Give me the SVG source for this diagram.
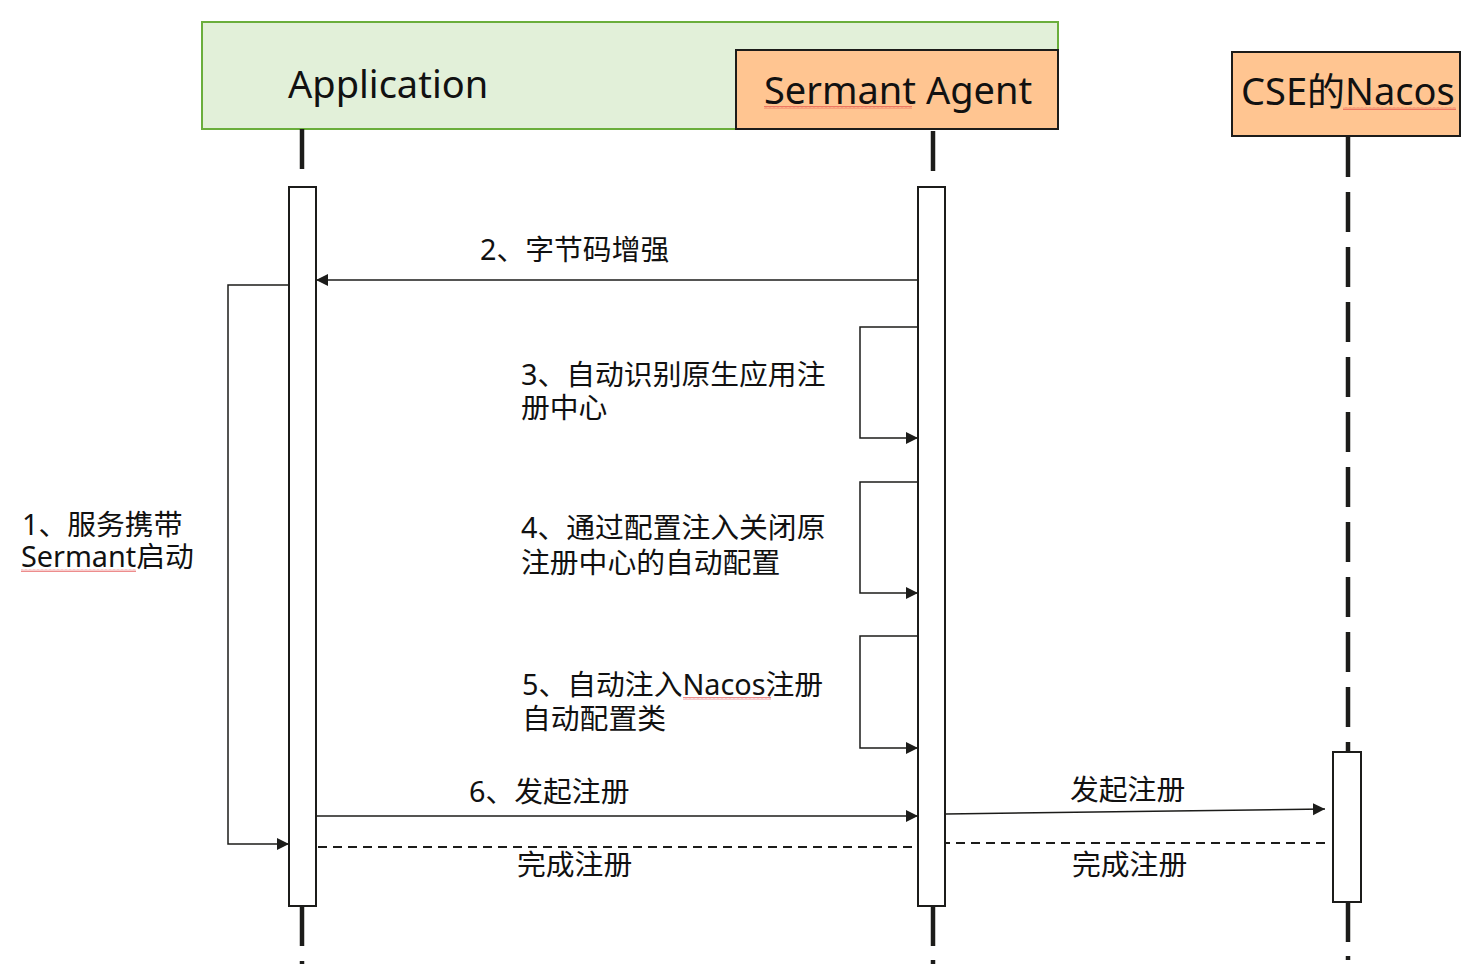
<svg xmlns="http://www.w3.org/2000/svg" width="1469" height="972" viewBox="0 0 1469 972">
<style>
  .t { font-family: "Noto Sans", "Noto Sans CJK SC", sans-serif; fill: #111; }
  .big { font-size: 38px; }
  .lbl { font-size: 28.8px; }
  .life { stroke: #1c1c1a; stroke-width: 4.5; fill: none; }
  .act { fill: #ffffff; stroke: #1c1c1a; stroke-width: 2; }
  .msg { stroke: #1c1c1a; stroke-width: 1.5; fill: none; }
  .ret { stroke: #1c1c1a; stroke-width: 2; fill: none; stroke-dasharray: 9 6; }
  .sq { fill: url(#squig); }
</style>
<defs>
  <marker id="arr" markerUnits="userSpaceOnUse" markerWidth="14" markerHeight="14" refX="12" refY="6" orient="auto">
    <path d="M0,0 L12,6 L0,12 z" fill="#1c1c1a"/>
  </marker>
  <pattern id="squig" patternUnits="userSpaceOnUse" width="4" height="3">
    <polyline points="0,2.5 1,0.5 2,2.5 3,0.5 4,2.5" fill="none" stroke="#e04040" stroke-width="0.6"/>
  </pattern>
</defs>

<g id="application">
  <rect x="202" y="22" width="856" height="107" fill="#e2f0d9" stroke="#6aae3c" stroke-width="2"/>
  <text class="t big" x="288" y="98">Application</text>
</g>

<g id="sermant-agent">
  <rect x="736" y="50" width="322" height="79" fill="#ffc591" stroke="#1c1c1a" stroke-width="2"/>
  <text class="t big" x="764" y="104">Sermant Agent</text>
  <rect class="sq" x="764" y="106" width="148" height="3"/>
</g>

<g id="cse-nacos">
  <rect x="1232" y="52" width="228" height="84" fill="#ffc591" stroke="#1c1c1a" stroke-width="2"/>
  <text class="t big" x="1241" y="105">CSE的Nacos</text>
  <rect class="sq" x="1343" y="107" width="113" height="3"/>
</g>

<g id="lifelines">
  <line class="life" x1="302" y1="129" x2="302" y2="169"/>
  <line class="life" x1="302" y1="906" x2="302" y2="946"/>
  <line class="life" x1="302" y1="961" x2="302" y2="964"/>
  <line class="life" x1="933" y1="131" x2="933" y2="171"/>
  <line class="life" x1="933" y1="906" x2="933" y2="946"/>
  <line class="life" x1="933" y1="960" x2="933" y2="964"/>
  <line class="life" x1="1348" y1="137" x2="1348" y2="752" stroke-dasharray="40 15"/>
  <line class="life" x1="1348" y1="902" x2="1348" y2="942"/>
  <line class="life" x1="1348" y1="956" x2="1348" y2="960"/>
</g>

<g id="app-activation">
  <rect class="act" x="289" y="187" width="27" height="719"/>
</g>
<g id="agent-activation">
  <rect class="act" x="918" y="187" width="27" height="719"/>
</g>
<g id="nacos-activation">
  <rect class="act" x="1333" y="752" width="28" height="150"/>
</g>

<g id="connectors">
  <path class="msg" d="M289,285 H228 V844 H289" marker-end="url(#arr)"/>
  <line class="msg" x1="918" y1="280" x2="316" y2="280" marker-end="url(#arr)"/>
  <path class="msg" d="M918,327 H860 V438 H918" marker-end="url(#arr)"/>
  <path class="msg" d="M918,482 H860 V593 H918" marker-end="url(#arr)"/>
  <path class="msg" d="M918,636 H860 V748 H918" marker-end="url(#arr)"/>
  <line class="msg" x1="316" y1="816" x2="918" y2="816" marker-end="url(#arr)"/>
  <line class="ret" x1="912" y1="847" x2="316" y2="847"/>
  <line class="msg" x1="946" y1="814" x2="1325" y2="809" stroke="#444" marker-end="url(#arr)"/>
  <line class="ret" x1="1325" y1="843" x2="946" y2="843" stroke-width="1.5"/>
</g>

<g id="labels">
  <text class="t lbl" x="22" y="535">1、服务携带<tspan x="21" dy="32">Sermant启动</tspan></text>
  <rect class="sq" x="21" y="569" width="115" height="3"/>
  <text class="t lbl" x="480" y="260">2、字节码增强</text>
  <text class="t lbl" x="521" y="385">3、自动识别原生应用注<tspan x="521" dy="33">册中心</tspan></text>
  <text class="t lbl" x="521" y="538">4、通过配置注入关闭原<tspan x="521" dy="35">注册中心的自动配置</tspan></text>
  <text class="t lbl" x="522" y="695">5、自动注入Nacos注册<tspan x="522" dy="34">自动配置类</tspan></text>
  <rect class="sq" x="683" y="697" width="88" height="3"/>
  <text class="t lbl" x="469" y="802">6、发起注册</text>
  <text class="t lbl" x="517" y="875">完成注册</text>
  <text class="t lbl" x="1070" y="800">发起注册</text>
  <text class="t lbl" x="1072" y="875">完成注册</text>
</g>
</svg>
